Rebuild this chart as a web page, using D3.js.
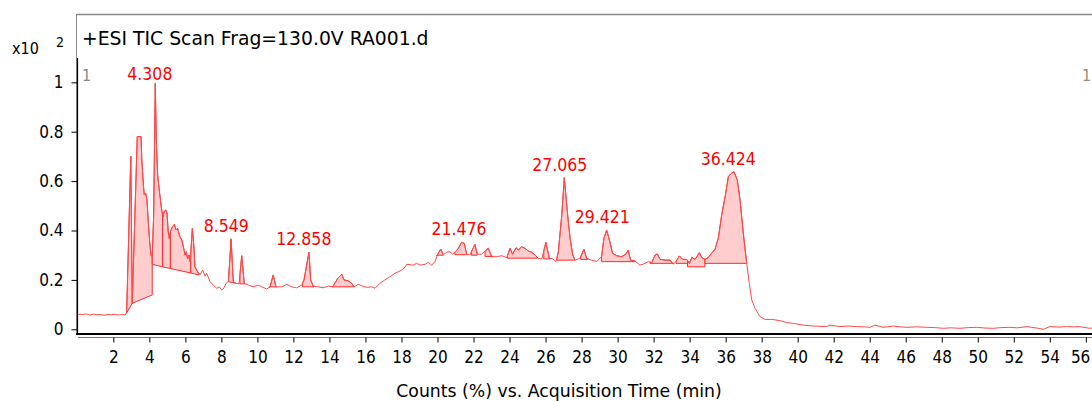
<!DOCTYPE html>
<html><head><meta charset="utf-8">
<script src="https://cdn.jsdelivr.net/npm/d3@7/dist/d3.min.js"></script>
<style>
html,body{margin:0;padding:0;background:#fff;}
svg{display:block;font-family:"DejaVu Sans Condensed","DejaVu Sans",sans-serif;}
</style></head>
<body><svg id="chart" width="1092" height="401"></svg>
<script>
// ---- data ----
const chartTitle = "+ESI TIC Scan Frag=130.0V RA001.d";
const xAxisTitle = "Counts (%) vs. Acquisition Time (min)";
const xTicks = [2,4,6,8,10,12,14,16,18,20,22,24,26,28,30,32,34,36,38,40,42,44,46,48,50,52,54,56];
const yTicks = [0,0.2,0.4,0.6,0.8,1];

const traceTime = [0.05,0.3,0.5,0.7,0.9,1.1,1.3,1.5,1.7,1.9,2.1,2.3,2.5,2.65,2.74,2.97,3.05,3.33,3.54,3.58,3.67,3.72,3.80,3.87,3.94,4.02,4.09,4.16,4.24,4.33,4.39,4.46,4.55,4.63,4.70,4.76,4.83,4.91,4.98,5.05,5.11,5.17,5.28,5.39,5.48,5.57,5.70,5.80,5.91,5.98,6.05,6.13,6.20,6.27,6.39,6.48,6.53,6.68,6.81,6.96,7.09,7.18,7.37,7.55,7.74,7.89,8.02,8.15,8.26,8.39,8.54,8.66,8.81,8.98,9.13,9.27,9.50,9.77,10.05,10.24,10.52,10.70,10.88,11.03,11.35,11.63,11.90,12.18,12.46,12.59,12.86,12.96,13.10,13.38,13.66,13.94,14.18,14.46,14.68,14.81,15.05,15.24,15.36,15.60,15.79,16.07,16.35,16.53,16.80,17.08,17.36,17.64,17.92,18.14,18.29,18.66,18.84,19.03,19.31,19.49,19.68,19.86,19.99,20.18,20.32,20.51,20.69,20.84,20.97,21.16,21.34,21.49,21.62,21.80,22.08,22.21,22.45,22.82,23.01,23.29,23.57,23.84,24.03,24.17,24.36,24.49,24.67,24.86,25.04,25.23,25.41,25.60,25.79,26.02,26.21,26.40,26.58,26.71,26.90,27.04,27.21,27.36,27.51,27.64,27.91,28.13,28.28,28.56,28.84,29.11,29.24,29.39,29.57,29.72,29.94,30.22,30.46,30.59,30.72,30.96,31.24,31.43,31.71,31.90,32.08,32.21,32.36,32.64,32.91,33.10,33.24,33.43,33.62,33.84,33.99,34.12,34.30,34.54,34.67,34.85,35.04,35.22,35.41,35.59,35.78,35.97,36.15,36.28,36.46,36.65,36.80,36.98,37.17,37.31,37.45,37.63,37.91,38.18,38.56,39.02,39.39,39.75,40.31,40.87,41.61,41.79,42.35,42.80,43.28,43.70,44.01,44.29,44.75,45.31,45.70,46.05,46.60,47.16,47.60,48.09,48.50,49.01,49.50,49.94,50.40,50.86,51.30,51.79,52.20,52.72,53.36,53.64,54.00,54.50,54.93,55.30,55.65,56.20,56.50];
const traceCounts = [0.061,0.060,0.062,0.058,0.061,0.059,0.060,0.057,0.060,0.059,0.061,0.058,0.060,0.058,0.066,0.700,0.105,0.780,0.780,0.690,0.584,0.544,0.550,0.523,0.436,0.355,0.300,0.294,0.463,0.996,0.760,0.625,0.564,0.517,0.476,0.456,0.479,0.483,0.470,0.395,0.368,0.395,0.415,0.425,0.402,0.409,0.375,0.362,0.328,0.301,0.314,0.285,0.301,0.274,0.410,0.328,0.253,0.233,0.220,0.240,0.215,0.227,0.193,0.179,0.166,0.172,0.159,0.168,0.186,0.193,0.366,0.193,0.186,0.184,0.298,0.186,0.179,0.172,0.179,0.172,0.163,0.172,0.220,0.172,0.172,0.182,0.172,0.168,0.179,0.200,0.312,0.200,0.175,0.172,0.168,0.175,0.172,0.206,0.223,0.200,0.196,0.186,0.172,0.182,0.176,0.170,0.172,0.166,0.186,0.200,0.213,0.227,0.236,0.247,0.263,0.260,0.267,0.260,0.263,0.271,0.260,0.274,0.301,0.325,0.301,0.312,0.314,0.304,0.312,0.328,0.352,0.348,0.304,0.301,0.344,0.304,0.304,0.328,0.294,0.294,0.298,0.290,0.328,0.304,0.330,0.321,0.334,0.328,0.317,0.312,0.301,0.287,0.285,0.352,0.287,0.285,0.274,0.314,0.463,0.614,0.476,0.368,0.301,0.280,0.287,0.324,0.287,0.280,0.274,0.294,0.368,0.402,0.355,0.308,0.298,0.294,0.304,0.321,0.280,0.277,0.260,0.264,0.274,0.270,0.301,0.305,0.283,0.280,0.280,0.264,0.274,0.297,0.283,0.283,0.267,0.291,0.283,0.310,0.291,0.283,0.291,0.308,0.324,0.368,0.463,0.537,0.618,0.629,0.638,0.604,0.523,0.389,0.267,0.186,0.119,0.085,0.051,0.040,0.040,0.035,0.027,0.024,0.017,0.013,0.011,0.017,0.011,0.013,0.011,0.010,0.008,0.017,0.008,0.013,0.010,0.008,0.010,0.008,0.007,0.004,0.006,0.004,0.007,0.008,0.005,0.004,0.007,0.008,0.006,0.011,0.004,0.000,0.011,0.009,0.011,0.010,0.011,0.004,0.006];

// integrated peaks: start/end time and baseline level at start/end
const peakStart = [2.74,3.05,4.16,4.74,5.17,6.30,8.40,9.03,10.65,12.50,14.15,19.97,20.97,21.88,22.64,23.88,25.90,26.64,27.95,29.10,31.80,33.24,33.88,34.85];
const peakEnd   = [3.05,4.16,4.74,5.17,6.30,6.75,8.80,9.30,11.08,13.15,15.36,20.32,21.62,22.21,23.06,25.54,26.25,27.64,28.35,30.96,33.10,33.88,34.85,37.17];
const baseStart = [0.066,0.105,0.263,0.253,0.246,0.228,0.193,0.184,0.172,0.172,0.172,0.300,0.302,0.300,0.295,0.288,0.285,0.280,0.283,0.274,0.267,0.267,0.253,0.267];
const baseEnd   = [0.105,0.139,0.253,0.246,0.228,0.220,0.186,0.184,0.172,0.172,0.172,0.300,0.302,0.300,0.295,0.288,0.285,0.280,0.283,0.274,0.267,0.267,0.253,0.267];

const labelText  = ["4.308","8.549","12.858","21.476","27.065","29.421","36.424"];
const labelTime  = [4.308,8.549,12.858,21.476,27.065,29.421,36.424];
const labelLevel = [0.996,0.366,0.312,0.352,0.614,0.402,0.638];

// ---- drawing ----
const svg = d3.select("#chart");
const x = d3.scaleLinear().domain([0, 60]).range([77.3, 77.3 + 60 * 18.01]);
const y = d3.scaleLinear().domain([0, 1]).range([329.3, 82.3]);
const trace = traceTime.map((t, i) => [t, traceCounts[i]]);

function valueAt(t) {
  const i = d3.bisector(d => d[0]).left(trace, t);
  if (i <= 0) return trace[0][1];
  if (i >= trace.length) return trace[trace.length - 1][1];
  const a = trace[i - 1], b = trace[i];
  return a[1] + (b[1] - a[1]) * (t - a[0]) / (b[0] - a[0]);
}

// frame
svg.append("line").attr("x1", 76.5).attr("x2", 1092).attr("y1", 14.5).attr("y2", 14.5)
  .attr("stroke", "#888").attr("stroke-width", 1.5);
svg.append("line").attr("x1", 76.5).attr("x2", 76.5).attr("y1", 14).attr("y2", 335)
  .attr("stroke", "#888").attr("stroke-width", 1);

const plot = svg.append("g");
// fills
peakStart.forEach((t0, i) => {
  const t1 = peakEnd[i];
  const pts = [[t0, valueAt(t0)]];
  trace.forEach(d => { if (d[0] > t0 && d[0] < t1) pts.push(d); });
  pts.push([t1, valueAt(t1)]);
  pts.push([t1, baseEnd[i]]);
  pts.push([t0, baseStart[i]]);
  plot.append("path")
    .attr("d", d3.line().x(d => x(d[0])).y(d => y(d[1]))(pts) + "Z")
    .attr("fill", "#ffc4c4").attr("fill-opacity", 0.85)
    .attr("stroke", "#ff2a2a").attr("stroke-width", 1).attr("stroke-linejoin", "round");
});
// trace
plot.append("path")
  .attr("d", d3.line().x(d => x(d[0])).y(d => y(d[1]))(trace))
  .attr("fill", "none").attr("stroke", "#ff4a4a").attr("stroke-width", 1);

// y axis
const yAxis = svg.append("g").attr("transform", "translate(77.5,0)")
  .call(d3.axisLeft(y).tickValues(yTicks).tickSize(6).tickPadding(8).tickFormat(d3.format("~g")));
yAxis.select(".domain").attr("d", "M0,58V335").attr("stroke", "#000").attr("stroke-width", 1.2);
yAxis.selectAll(".tick text").attr("font-size", 17).attr("fill", "#000")
  .attr("font-family", "'DejaVu Sans Condensed','DejaVu Sans',sans-serif");

// x axis: thick frame line + thin axis with ticks
svg.append("line").attr("x1", 76).attr("x2", 1092).attr("y1", 334).attr("y2", 334)
  .attr("stroke", "#000").attr("stroke-width", 2.2);
const xAxis = svg.append("g").attr("transform", "translate(0,337.5)")
  .call(d3.axisBottom(x).tickValues(xTicks).tickSize(5).tickPadding(8).tickSizeOuter(0));
xAxis.select(".domain").attr("d", "M78,0H1092").attr("stroke", "#777").attr("stroke-width", 1);
xAxis.selectAll(".tick text").attr("font-size", 17).attr("fill", "#000")
  .attr("font-family", "'DejaVu Sans Condensed','DejaVu Sans',sans-serif");
// keep the last tick label inside the window
xAxis.selectAll(".tick text").filter(d => d === 56).attr("text-anchor", "end").attr("dx", "4");

// texts
svg.append("text").attr("x", 82).attr("y", 45).attr("font-size", 18.8)
  .attr("font-family", "'DejaVu Sans',sans-serif").attr("fill", "#000").text(chartTitle);
svg.append("text").attr("x", 12).attr("y", 54).attr("font-size", 16).attr("fill", "#000").text("x10");
svg.append("text").attr("x", 56).attr("y", 47).attr("font-size", 14).attr("fill", "#000").text("2");
svg.append("text").attr("x", 82).attr("y", 81).attr("font-size", 16).attr("fill", "#888").text("1");
svg.append("text").attr("x", 1082).attr("y", 81).attr("font-size", 16).attr("fill", "#a08870").text("1");
svg.append("text").attr("x", 559).attr("y", 397).attr("text-anchor", "middle")
  .attr("font-family", "'DejaVu Sans',sans-serif")
  .attr("font-size", 17.3).attr("fill", "#000").text(xAxisTitle);

// peak labels
svg.append("g").selectAll("text").data(labelText).join("text")
  .attr("x", (d, i) => x(labelTime[i]) - 5)
  .attr("y", (d, i) => Math.max(80, y(labelLevel[i]) - 7))
  .attr("text-anchor", "middle").attr("font-size", 17.5).attr("fill", "#ff0000")
  .text(d => d);
</script></body></html>
